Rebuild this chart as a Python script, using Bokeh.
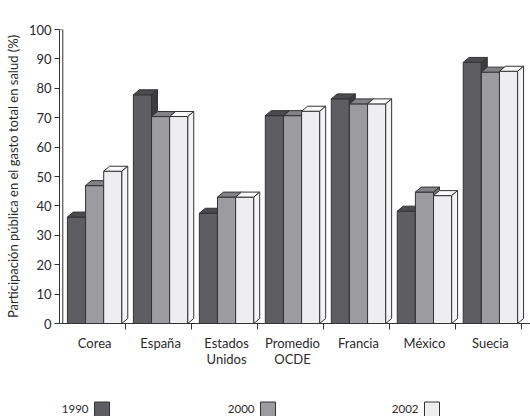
from bokeh.plotting import figure
from bokeh.layouts import column
from bokeh.models import Range1d, FixedTicker
from bokeh.core.properties import value
from bokeh.embed import file_html
from bokeh.resources import INLINE

# Participación pública en el gasto total en salud (%)
paises = ["Corea", "España", "Estados\nUnidos", "Promedio\nOCDE", "Francia", "México", "Suecia"]
anios = ["1990", "2000", "2002"]
v1990 = [36.2, 77.8, 37.5, 70.7, 76.4, 38.2, 88.8]
v2000 = [46.9, 70.4, 43.0, 70.7, 74.7, 44.7, 85.5]
v2002 = [51.8, 70.4, 43.0, 72.2, 74.7, 43.5, 85.8]
y_ticks = [0, 10, 20, 30, 40, 50, 60, 70, 80, 90, 100]

series = [v1990, v2000, v2002]
front_colors = ["#5d5d62", "#9b9ba0", "#eeeef0"]
top_colors = ["#4a4a4f", "#828287", "#fafafa"]
side_colors = ["#3c3c40", "#6e6e73", "#f4f4f6"]
edge = "#333333"
text_color = "#2a2a2a"
FONT = "Lato"

# geometry of the pseudo-3D bars (x in group units, y in %)
bar_w = 0.275
lead = 0.12
dx = 0.09
dy = 1.7

LEFT = 59
WIDTH = 530

p = figure(width=WIDTH, height=370, x_range=Range1d(0, 7.14), y_range=Range1d(0, 100),
           output_backend="svg", toolbar_location=None,
           min_border_left=LEFT, min_border_right=0, min_border_top=29, min_border_bottom=47)
p.outline_line_color = None
p.xgrid.visible = False
p.ygrid.visible = False

# thin wall behind the value axis
p.quad(left=[0], right=[0.05], bottom=[0], top=[100], fill_color="white",
       line_color=edge, line_width=1)

for s, vals in enumerate(series):
    lefts = [i + lead + s * bar_w for i in range(len(paises))]
    rights = [l + bar_w for l in lefts]
    p.quad(left=lefts, right=rights, bottom=[0] * len(vals), top=vals,
           fill_color=front_colors[s], line_color=edge, line_width=1)
    tops_x = [[l, r, r + dx, l + dx] for l, r in zip(lefts, rights)]
    tops_y = [[v, v, v + dy, v + dy] for v in vals]
    p.patches(tops_x, tops_y, fill_color=top_colors[s], line_color=edge, line_width=1)
    sides_x = [[r, r + dx, r + dx, r] for r in rights]
    sides_y = [[0, dy, v + dy, v] for v in vals]
    p.patches(sides_x, sides_y, fill_color=side_colors[s], line_color=edge, line_width=1)

centers = [i + lead + 1.5 * bar_w for i in range(len(paises))]
separators = [i + 1 for i in range(len(paises))]

xa = p.xaxis[0]
xa.ticker = FixedTicker(ticks=centers, minor_ticks=separators)
xa.major_label_overrides = {c: name for c, name in zip(centers, paises)}
xa.major_tick_out = 0
xa.major_tick_in = 0
xa.minor_tick_out = 6
xa.minor_tick_in = 0
xa.major_label_standoff = 5
xa.axis_line_color = edge
xa.minor_tick_line_color = edge
xa.major_label_text_font = FONT
xa.major_label_text_font_size = "13px"
xa.major_label_text_line_height = 1.0
xa.major_label_text_color = text_color

ya = p.yaxis[0]
ya.ticker = FixedTicker(ticks=y_ticks)
ya.major_tick_out = 5
ya.major_tick_in = 0
ya.minor_tick_line_color = None
ya.axis_line_color = edge
ya.major_tick_line_color = edge
ya.major_label_standoff = 3
ya.major_label_text_font = FONT
ya.major_label_text_font_size = "13px"
ya.major_label_text_color = text_color
ya.axis_label = "Participación pública en el gasto total en salud (%)"
ya.axis_label_text_font = FONT
ya.axis_label_text_font_size = "13px"
ya.axis_label_text_font_style = "normal"
ya.axis_label_text_color = text_color
ya.axis_label_standoff = 5

# legend strip: year label followed by its swatch (x in page pixels)
leg = figure(width=WIDTH, height=46, x_range=Range1d(LEFT, WIDTH), y_range=Range1d(0, 46),
             output_backend="svg", toolbar_location=None, min_border=0,
             min_border_left=LEFT, min_border_right=0)
leg.axis.visible = False
leg.xgrid.visible = False
leg.ygrid.visible = False
leg.outline_line_color = None

text_right = [88, 254, 418]
sw_size = 15
leg.text(x=text_right, y=[8] * 3, text=anios, text_font=value(FONT), text_font_size="11.5px",
         text_align="right", text_baseline="middle", text_color=text_color)
leg.rect(x=[t + 6 + sw_size / 2 for t in text_right], y=[7] * 3, width=sw_size, height=sw_size,
         fill_color=front_colors, line_color=edge, line_width=1)

layout = column(p, leg, spacing=0)
open("out.html", "w").write(file_html(layout, INLINE))
